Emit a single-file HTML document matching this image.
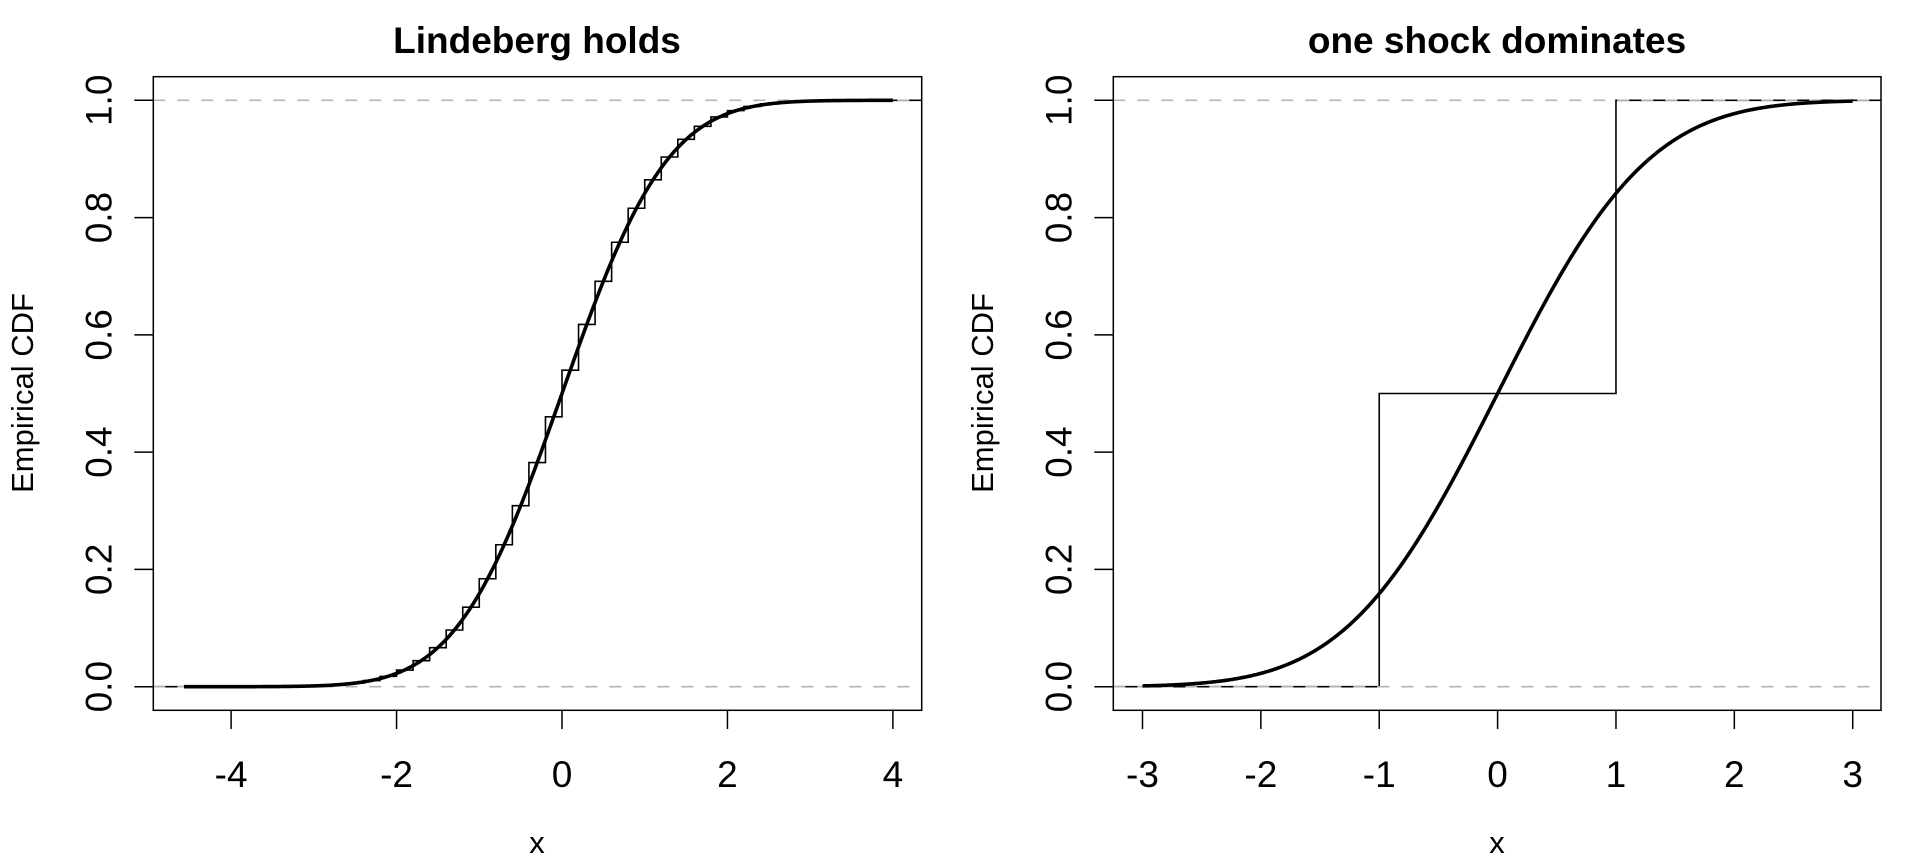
<!DOCTYPE html>
<html><head><meta charset="utf-8"><style>
html,body{margin:0;padding:0;background:#fff;}
svg{display:block;}
text{font-family:"Liberation Sans",Arial,sans-serif;fill:#000;}
</style></head><body>
<svg id="s" width="1920" height="864" viewBox="0 0 1920 864" xmlns="http://www.w3.org/2000/svg">
<defs>
<clipPath id="c1"><rect x="153.3" y="76.7" width="768.4" height="633.6"/></clipPath>
<clipPath id="c2"><rect x="1113.3" y="76.7" width="767.7" height="633.6"/></clipPath>
</defs>
<g id="g"></g>
<text x="537" y="53" font-size="37" font-weight="bold" text-anchor="middle">Lindeberg holds</text>
<text x="1497" y="53" font-size="37" font-weight="bold" text-anchor="middle">one shock dominates</text>
<text x="537" y="853" font-size="31" text-anchor="middle">x</text>
<text x="1497" y="853" font-size="31" text-anchor="middle">x</text>
<text transform="translate(33,393) rotate(-90)" font-size="31" text-anchor="middle">Empirical CDF</text>
<text transform="translate(993,393) rotate(-90)" font-size="31" text-anchor="middle">Empirical CDF</text>
</svg>
<script>
(function(){
var NS="http://www.w3.org/2000/svg",g=document.getElementById("g");
function el(t,a,txt){var e=document.createElementNS(NS,t);for(var k in a)e.setAttribute(k,a[k]);if(txt!==undefined)e.textContent=txt;g.appendChild(e);return e;}
function erf(x){var s=x<0?-1:1;x=Math.abs(x);var t=1/(1+0.3275911*x);var y=1-(((((1.061405429*t-1.453152027)*t)+1.421413741)*t-0.284496736)*t+0.254829592)*t*Math.exp(-x*x);return s*y;}
function pn(x){return 0.5*(1+erf(x/Math.SQRT2));}
var Y0=686.7,Y1=100.3,top=76.7,bot=710.3;
function Y(v){return Y0+(Y1-Y0)*v;}
function panel(L,R,x0,unit,xt,steps,cx0,cx1,clip){
 function X(v){return x0+unit*v;}
 var d="M"+L+","+Y(0);
 for(var i=0;i<steps.length;i++){var s=steps[i];var px=Math.max(L,Math.min(R,X(s[0])));d+=" H"+px.toFixed(2)+" V"+Y(s[1]).toFixed(2);}
 d+=" H"+R;
 el("path",{d:d,fill:"none",stroke:"#000","stroke-width":"1.6","clip-path":"url(#"+clip+")"});
 [0,1].forEach(function(v){el("line",{x1:L,x2:R,y1:Y(v),y2:Y(v),stroke:"#b3b3b3","stroke-width":"1.6","stroke-dasharray":"12 12"});});
 var c="";for(var i=0;i<=600;i++){var x=cx0+(cx1-cx0)*i/600;c+=(i?" L":"M")+X(x).toFixed(2)+","+Y(pn(x)).toFixed(2);}
 el("path",{d:c,fill:"none",stroke:"#000","stroke-width":"3.6","stroke-linejoin":"round"});
 el("rect",{x:L,y:top,width:R-L,height:bot-top,fill:"none",stroke:"#000","stroke-width":"1.5"});
 xt.forEach(function(v){var px=X(v);el("line",{x1:px,x2:px,y1:bot,y2:729,stroke:"#000","stroke-width":"1.5"});
  el("text",{x:px,y:787,"font-size":"37","text-anchor":"middle"},String(v));});
 for(var k=0;k<=5;k++){var v=k/5,py=Y(v);el("line",{x1:L-19,x2:L,y1:py,y2:py,stroke:"#000","stroke-width":"1.5"});
  el("text",{transform:"translate("+(L-42)+","+py+") rotate(-90)","font-size":"37","text-anchor":"middle"},v.toFixed(1));}
}
var n=100,lf=[0];for(var i=1;i<=n;i++)lf[i]=lf[i-1]+Math.log(i);
var st=[],cum=0;
for(var k=0;k<=n;k++){cum+=Math.exp(lf[n]-lf[k]-lf[n-k]-n*Math.LN2);st.push([(2*k-n)/10,Math.min(cum,1)]);}
panel(153.3,921.7,562,82.72,[-4,-2,0,2,4],st,-4.57,4,"c1");
panel(1113.3,1881,1497.6,118.37,[-3,-2,-1,0,1,2,3],[[-1,0.5],[1,1]],-3,3,"c2");
})();
</script>
</body></html>
